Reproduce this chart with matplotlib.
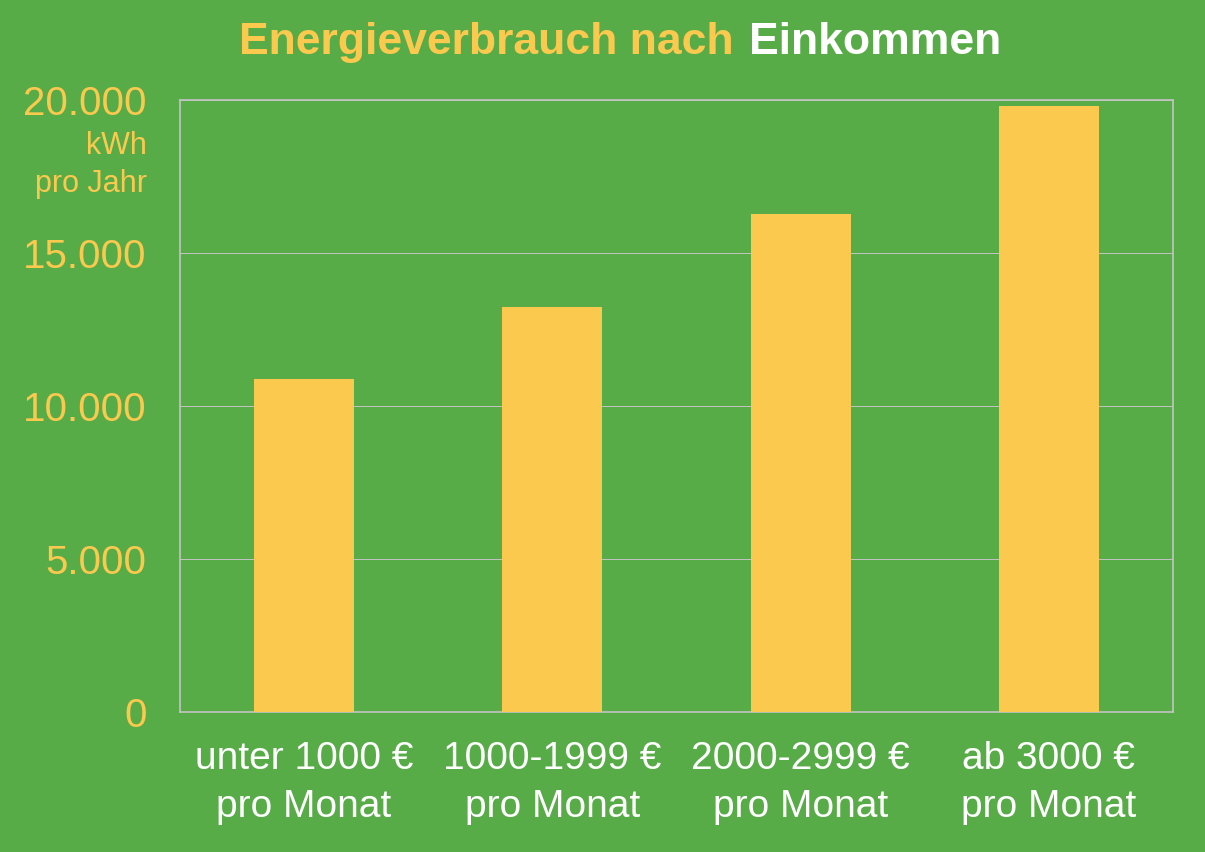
import matplotlib

matplotlib.use("Agg")
import matplotlib.pyplot as plt  # noqa: E402
import numpy as np  # noqa: E402

GREEN, YELLOW, WHITE, GRID = "#58ac48", "#fcc94f", "#ffffff", "#c4c4c4"
plt.rcParams["font.family"] = ["Liberation Sans", "DejaVu Sans"]

categories = ["unter 1000 €\npro Monat", "1000-1999 €\npro Monat",
              "2000-2999 €\npro Monat", "ab 3000 €\npro Monat"]
consumption = [10870, 13220, 16270, 19800]
yticks = [0, 5000, 10000, 15000, 20000]
ytick_labels = ["0", "5.000", "10.000", "15.000", "20.000"]

fig = plt.figure(figsize=(12.05, 8.52), dpi=100, facecolor=GREEN)
ax = fig.add_axes([180 / 1205, 1 - 712 / 852, 993 / 1205, 612 / 852])
ax.set_facecolor(GREEN)

x = np.arange(len(categories))
ax.bar(x, consumption, width=0.403, color=YELLOW, zorder=3)

ax.set_xlim(-0.5, len(categories) - 0.5)
ax.set_ylim(0, 20000)
ax.set_yticks(yticks)
ax.set_yticklabels(ytick_labels, fontsize=29, color=YELLOW)
ax.set_xticks(x)
ax.set_xticklabels(categories, fontsize=28, color=WHITE, linespacing=1.42)
ax.tick_params(axis="y", length=0, pad=24)
ax.tick_params(axis="x", length=0, pad=21)
ax.grid(axis="y", color=GRID, linewidth=0.7, zorder=1)
for s in ax.spines.values():
    s.set_color(GRID)
    s.set_linewidth(1.2)

fig.text(147 / 1205, 1 - 131 / 852, "kWh\npro Jahr", ha="right", va="top",
         multialignment="right", fontsize=22, color=YELLOW, linespacing=1.35)

# two-colour title
fig.text(734 / 1205, 1 - 54 / 852, "Energieverbrauch nach", ha="right", va="baseline",
         fontsize=32, fontweight="bold", color=YELLOW)
fig.text(749 / 1205, 1 - 54 / 852, "Einkommen", ha="left", va="baseline",
         fontsize=32, fontweight="bold", color=WHITE)

fig.savefig("out.png", dpi=100, facecolor=GREEN)
